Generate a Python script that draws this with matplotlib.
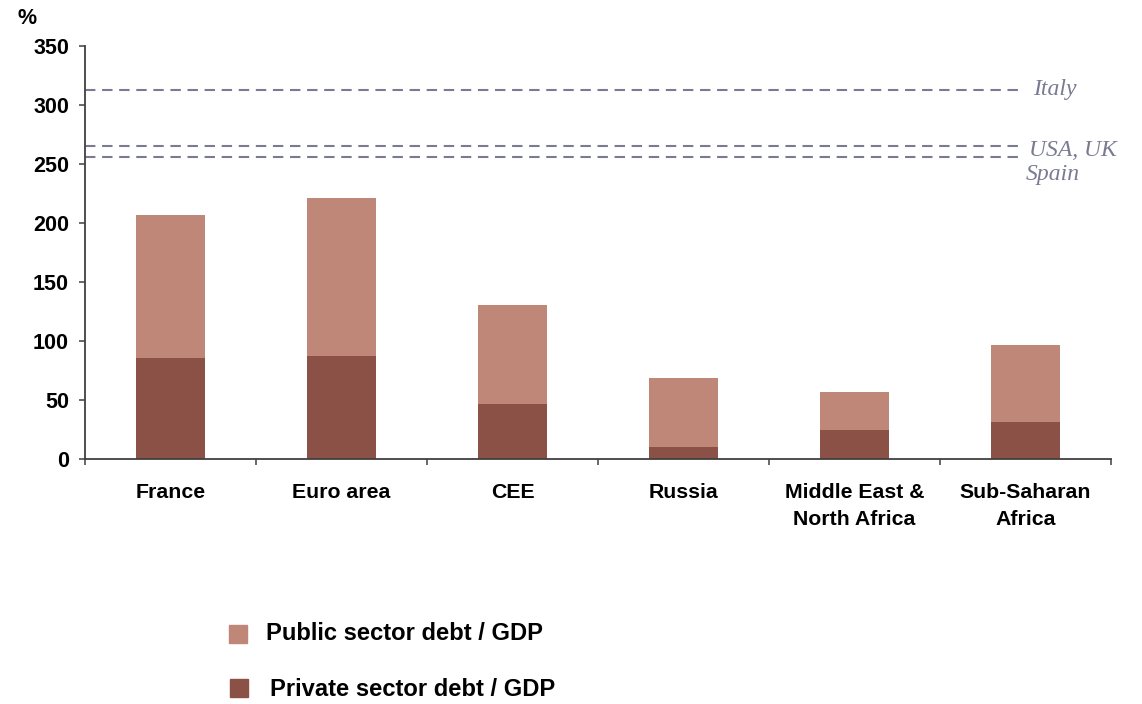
import matplotlib
matplotlib.use("Agg")
import matplotlib.pyplot as plt
from matplotlib.patches import Rectangle
from matplotlib.transforms import blended_transform_factory
import numpy as np

# Debt ratios, % of GDP
categories = ["France", "Euro area", "CEE", "Russia",
              "Middle East &\nNorth Africa", "Sub-Saharan\nAfrica"]
private_debt = [85.5, 87, 47, 10.5, 25, 31.5]
total_debt = [207, 221, 130.5, 69, 57, 97]
public_debt = [t - p for t, p in zip(total_debt, private_debt)]

# Reference levels for other countries
ref_labels = ["Italy", "USA, UK", "Spain"]
ref_values = [312, 265, 256]

series_names = ["Public sector debt / GDP", "Private sector debt / GDP"]
yticks = [0, 50, 100, 150, 200, 250, 300, 350]

PUBLIC_C = "#BF8778"
PRIVATE_C = "#8B5147"
REF_C = "#7A7A92"
AXIS_C = "#404040"

plt.rcParams["font.family"] = ["Liberation Sans", "DejaVu Sans"]

W, H = 1142, 704
fig = plt.figure(figsize=(W / 100, H / 100), dpi=100)
x0, x1, y0, y1 = 85, 1111, 459.3, 45.5
ax = fig.add_axes([x0 / W, 1 - y0 / H, (x1 - x0) / W, (y0 - y1) / H])

x = np.arange(len(categories))
ax.bar(x, private_debt, width=0.40, color=PRIVATE_C, zorder=2)
ax.bar(x, public_debt, width=0.40, bottom=private_debt, color=PUBLIC_C, zorder=2)

ax.set_xlim(-0.5, len(categories) - 0.5)
ax.set_ylim(0, 350)

# Dashed reference lines with italic labels at the right
line_end = (1022 - x0) / (x1 - x0)
trans = blended_transform_factory(ax.transAxes, ax.transData)
label_offsets = {"Italy": (1033, 1.2), "USA, UK": (1029, -4.0), "Spain": (1026, -14.7)}
for lab, val in zip(ref_labels, ref_values):
    ax.axhline(val, xmin=0, xmax=line_end, color=REF_C, lw=1.5,
               dashes=(5, 3.2), zorder=1)
    px, dy = label_offsets[lab]
    ax.text((px - x0) / (x1 - x0), val + dy, lab, transform=trans,
            family="Liberation Serif", style="italic", fontsize=17,
            color=REF_C, va="center", ha="left")

# Axes styling
for s in ["top", "right"]:
    ax.spines[s].set_visible(False)
for s in ["left", "bottom"]:
    ax.spines[s].set_color(AXIS_C)
    ax.spines[s].set_linewidth(1.3)

ax.set_yticks(yticks)
ax.set_yticklabels([str(v) for v in yticks], fontsize=15.5, fontweight="bold")
ax.tick_params(axis="y", direction="out", length=4.5, width=1.1,
               color=AXIS_C, pad=7)

ax.set_xticks(x)
ax.set_xticklabels(categories, fontsize=15.3, fontweight="bold")
ax.tick_params(axis="x", which="major", length=0, pad=17)
ax.set_xticks(np.arange(len(categories) + 1) - 0.5, minor=True)
ax.tick_params(axis="x", which="minor", direction="out", length=4.5,
               width=1.1, color=AXIS_C)
for lbl in ax.get_xticklabels():
    lbl.set_linespacing(1.55)

fig.text(18 / W, 1 - 19 / H, "%", fontsize=15.5, fontweight="bold",
         ha="left", va="center")

# Legend drawn as swatches with labels below the chart
legend_items = [
    (series_names[0], PUBLIC_C, 229, 625, 266, 634),
    (series_names[1], PRIVATE_C, 230, 679, 270, 689),
]
for name, col, sx, sy, tx, ty in legend_items:
    fig.patches.append(Rectangle((sx / W, 1 - (sy + 18) / H), 18 / W, 18 / H,
                                 transform=fig.transFigure, color=col,
                                 figure=fig))
    fig.text(tx / W, 1 - ty / H, name, fontsize=17.1, fontweight="bold",
             ha="left", va="center")

fig.savefig("out.png", dpi=100)
